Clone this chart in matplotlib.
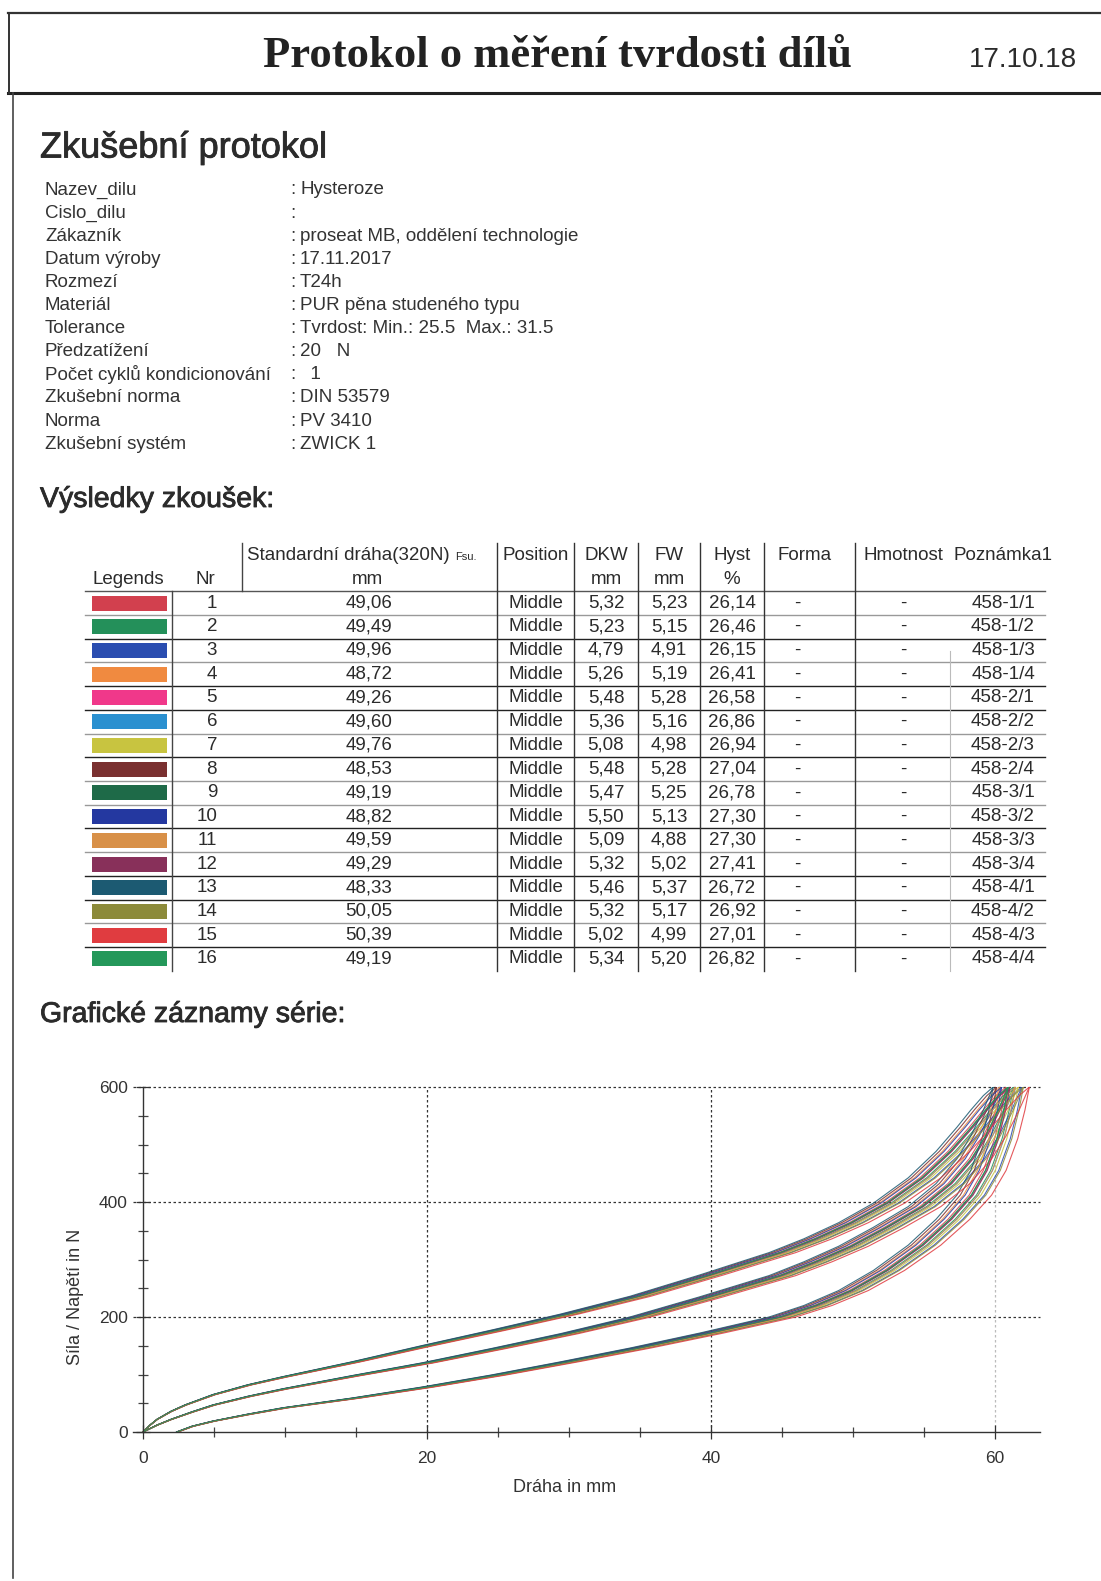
import numpy as np
import matplotlib.pyplot as plt
import matplotlib.patheffects as pe
from matplotlib.patches import Rectangle
from matplotlib.ticker import MultipleLocator

plt.rcParams['font.family'] = ['Liberation Sans', 'DejaVu Sans']

# ---- data ----
info_labels = ["Nazev_dilu", "Cislo_dilu", "Zákazník", "Datum výroby", "Rozmezí", "Materiál",
               "Tolerance", "Předzatížení", "Počet cyklů kondicionování", "Zkušební norma",
               "Norma", "Zkušební systém"]
info_values = ["Hysteroze", "", "proseat MB, oddělení technologie", "17.11.2017", "T24h",
               "PUR pěna studeného typu", "Tvrdost: Min.: 25.5  Max.: 31.5", "20   N", "  1",
               "DIN 53579", "PV 3410", "ZWICK 1"]

nr = list(range(1, 17))
std_path = [49.06, 49.49, 49.96, 48.72, 49.26, 49.60, 49.76, 48.53,
            49.19, 48.82, 49.59, 49.29, 48.33, 50.05, 50.39, 49.19]
dkw = [5.32, 5.23, 4.79, 5.26, 5.48, 5.36, 5.08, 5.48, 5.47, 5.50, 5.09, 5.32, 5.46, 5.32, 5.02, 5.34]
fw = [5.23, 5.15, 4.91, 5.19, 5.28, 5.16, 4.98, 5.28, 5.25, 5.13, 4.88, 5.02, 5.37, 5.17, 4.99, 5.20]
hyst = [26.14, 26.46, 26.15, 26.41, 26.58, 26.86, 26.94, 27.04,
        26.78, 27.30, 27.30, 27.41, 26.72, 26.92, 27.01, 26.82]
notes = ["458-1/1", "458-1/2", "458-1/3", "458-1/4", "458-2/1", "458-2/2", "458-2/3", "458-2/4",
         "458-3/1", "458-3/2", "458-3/3", "458-3/4", "458-4/1", "458-4/2", "458-4/3", "458-4/4"]
colors = ["#d2404e", "#24905a", "#2a4db0", "#f08a40", "#f0388a", "#2a90d0", "#c8c440", "#7a3030",
          "#1e6a48", "#2438a0", "#d89048", "#88305a", "#1c5a72", "#8c8a3a", "#e03c40", "#24985a"]

# reference curves (displacement mm, force N)
load1_x = [0, 0.5, 1, 2, 3, 5, 7.5, 10, 15, 20, 25, 30, 35, 40, 45, 47.5, 50, 52.5, 55, 57, 58.5, 59.5, 60.4, 61.1]
load1_f = [0, 12, 22, 36, 47, 65, 82, 96, 122, 150, 177, 205, 236, 273, 312, 336, 364, 398, 442, 488, 530, 560, 585, 600]
load2_x = [0, 1, 2, 3.5, 5, 7.5, 10, 15, 20, 25, 30, 35, 40, 45, 47.5, 50, 52.5, 55, 57, 58.5, 59.5, 60.4, 61.1]
load2_f = [0, 12, 22, 35, 47, 62, 75, 98, 120, 145, 171, 200, 235, 272, 296, 323, 356, 392, 432, 475, 515, 560, 600]
unload_x = [2.4, 3.5, 5, 7.5, 10, 15, 20, 25, 30, 35, 40, 45, 47.5, 50, 52.5, 55, 57, 58.5, 59.5, 60.3, 60.8, 61.1]
unload_f = [0, 10, 19, 31, 42, 59, 78, 99, 122, 146, 172, 200, 220, 246, 281, 325, 370, 412, 455, 510, 560, 600]

x_ticks = [0, 20, 40, 60]
y_ticks = [0, 200, 400, 600]

W, H = 1101, 1581
fig = plt.figure(figsize=(W / 100, H / 100), dpi=100)
page = fig.add_axes([0, 0, 1, 1])
page.set_xlim(0, W)
page.set_ylim(H, 0)
page.axis('off')

ink = '#2b2b2b'
heavy = [pe.withStroke(linewidth=0.6, foreground=ink)]

# header frame
page.plot([8, W], [13, 13], color='#333', lw=1.6)
page.plot([8, W], [93, 93], color='#222', lw=2.2)
page.plot([9, 9], [13, 93], color='#333', lw=1.4)
page.plot([13, 13], [93, 1578], color='#444', lw=1.2)
page.text(557, 56, "Protokol o měření tvrdosti dílů", family='Liberation Serif', weight='bold',
          fontsize=32, ha='center', va='center', color='#222')
page.text(1077, 60, "17.10.18", fontsize=20, ha='right', va='center', color=ink)

page.text(40, 148, "Zkušební protokol", fontsize=26, ha='left', va='center', color=ink,
          path_effects=heavy)

for i, (lab, val) in enumerate(zip(info_labels, info_values)):
    y = 190 + i * 23.1
    page.text(45, y, lab, fontsize=13.5, ha='left', va='center', color='#333')
    page.text(290, y, ":", fontsize=13.5, ha='left', va='center', color='#333')
    page.text(300, y, val, fontsize=13.5, ha='left', va='center', color='#333')

page.text(40, 500, "Výsledky zkoušek:", fontsize=20.5, ha='left', va='center', color=ink,
          path_effects=heavy)

# ---- table ----
row0 = 603
dy = 23.73
ys = [row0 + k * dy for k in range(16)]
y_top, y_hdr, y_bot = 543, 591, ys[-1] + 12

fs = 13.5
hy1, hy2 = 555, 579
c_pos, c_dkw, c_fw, c_hyst, c_forma, c_hm, c_pz = 536, 606, 669, 732, 805, 903, 1003
page.text(128, hy2, "Legends", fontsize=fs, ha='center', va='center', color=ink)
page.text(205, hy2, "Nr", fontsize=fs, ha='center', va='center', color=ink)
page.text(247, hy1, "Standardní dráha(320N)", fontsize=fs, ha='left', va='center', color=ink)
page.text(455, hy1 + 2, "Fsu.", fontsize=8, ha='left', va='center', color=ink)
page.text(367, hy2, "mm", fontsize=fs, ha='center', va='center', color=ink)
page.text(c_pos, hy1, "Position", fontsize=fs, ha='center', va='center', color=ink)
for cx, top, bottom in [(c_dkw, "DKW", "mm"), (c_fw, "FW", "mm"), (c_hyst, "Hyst", "%")]:
    page.text(cx, hy1, top, fontsize=fs, ha='center', va='center', color=ink)
    page.text(cx, hy2, bottom, fontsize=fs, ha='center', va='center', color=ink)
page.text(c_forma, hy1, "Forma", fontsize=fs, ha='center', va='center', color=ink)
page.text(c_hm, hy1, "Hmotnost", fontsize=fs, ha='center', va='center', color=ink)
page.text(c_pz, hy1, "Poznámka1", fontsize=fs, ha='center', va='center', color=ink)

fmt = lambda v: f"{v:.2f}".replace('.', ',')
for k in range(16):
    y = ys[k]
    page.add_patch(Rectangle((92, y - 7.5), 75, 15, facecolor=colors[k], edgecolor='none'))
    page.text(217, y, str(nr[k]), fontsize=fs, ha='right', va='center', color=ink)
    page.text(369, y, fmt(std_path[k]), fontsize=fs, ha='center', va='center', color=ink)
    page.text(c_pos, y, "Middle", fontsize=fs, ha='center', va='center', color=ink)
    page.text(c_dkw, y, fmt(dkw[k]), fontsize=fs, ha='center', va='center', color=ink)
    page.text(c_fw, y, fmt(fw[k]), fontsize=fs, ha='center', va='center', color=ink)
    page.text(c_hyst, y, fmt(hyst[k]), fontsize=fs, ha='center', va='center', color=ink)
    page.text(c_forma - 8, y, "-", fontsize=fs, ha='center', va='center', color=ink)
    page.text(c_hm, y, "-", fontsize=fs, ha='center', va='center', color=ink)
    page.text(c_pz, y, notes[k], fontsize=fs, ha='center', va='center', color=ink)

# table rules
page.plot([85, 1045], [y_hdr, y_hdr], color='#555', lw=1.0)
dark_rows = {1, 3, 4, 6, 9, 11, 12, 14}
for k in range(15):
    yl = ys[k] + dy / 2
    page.plot([85, 1045], [yl, yl], color='#222' if k in dark_rows else '#999', lw=1.0)
for xv in [497, 574, 638, 700, 764, 855]:
    page.plot([xv, xv], [y_top, y_bot], color='#333', lw=1.0)
page.plot([242, 242], [y_top, y_hdr], color='#444', lw=1.0)
page.plot([172, 172], [y_hdr, y_bot], color='#444', lw=1.0)
page.plot([950, 950], [y_hdr + 60, y_bot], color='#bbb', lw=0.8)

page.text(40, 1015, "Grafické záznamy série:", fontsize=20.5, ha='left', va='center', color=ink,
          path_effects=heavy)

# ---- chart ----
x0_px, px = 143, 14.2
y0_px, y600_px = 1432, 1087
x_lo, x_hi = -0.7, 63.2
ax = fig.add_axes([(x0_px + x_lo * px) / W, (H - y0_px) / H,
                   (x_hi - x_lo) * px / W, (y0_px - y600_px) / H])
ax.set_xlim(x_lo, x_hi)
ax.set_ylim(0, 600)
for s in ['top', 'right']:
    ax.spines[s].set_visible(False)
ax.spines['left'].set_position(('data', 0))
ax.spines['left'].set_bounds(0, 600)
ax.spines['bottom'].set_bounds(x_lo, x_hi)
for s in ['left', 'bottom']:
    ax.spines[s].set_color('#333')
    ax.spines[s].set_linewidth(1.0)

mean_path = np.mean(std_path)
for k in range(16):
    sc = std_path[k] / mean_path
    c = colors[k]
    ax.plot(np.array(load1_x) * sc, load1_f, color=c, lw=0.8, alpha=0.85)
    ax.plot(np.array(load2_x) * sc, load2_f, color=c, lw=0.8, alpha=0.85)
    ax.plot(np.array(unload_x) * sc, unload_f, color=c, lw=0.8, alpha=0.85)

for yv in y_ticks[1:]:
    ax.plot([x_lo, x_hi], [yv, yv], color='#333', lw=0.9, ls=(0, (2, 2)), clip_on=False, zorder=0)
for xv in x_ticks[1:]:
    ax.plot([xv, xv], [0, 600], color='#333' if xv < 60 else '#bbb', lw=0.9,
            ls=(0, (2, 2)), zorder=0)

ax.set_xticks(x_ticks)
ax.set_yticks(y_ticks)
ax.xaxis.set_minor_locator(MultipleLocator(5))
ax.yaxis.set_minor_locator(MultipleLocator(50))
ax.tick_params(which='major', direction='inout', length=10, width=0.9, color='#333',
               labelsize=12.5, labelcolor='#333')
ax.tick_params(which='minor', direction='inout', length=7, width=0.9, color='#444')
ax.tick_params(axis='x', which='major', pad=9)
ax.tick_params(axis='y', which='major', pad=6)
ax.patch.set_alpha(0)

page.text(565, 1487, "Dráha in mm", fontsize=13, ha='center', va='center', color='#333')
page.text(76, 1297, "Síla / Napětí in N", fontsize=13, ha='center', va='center',
          rotation=90, color='#333')

fig.savefig("out.png", dpi=100)
